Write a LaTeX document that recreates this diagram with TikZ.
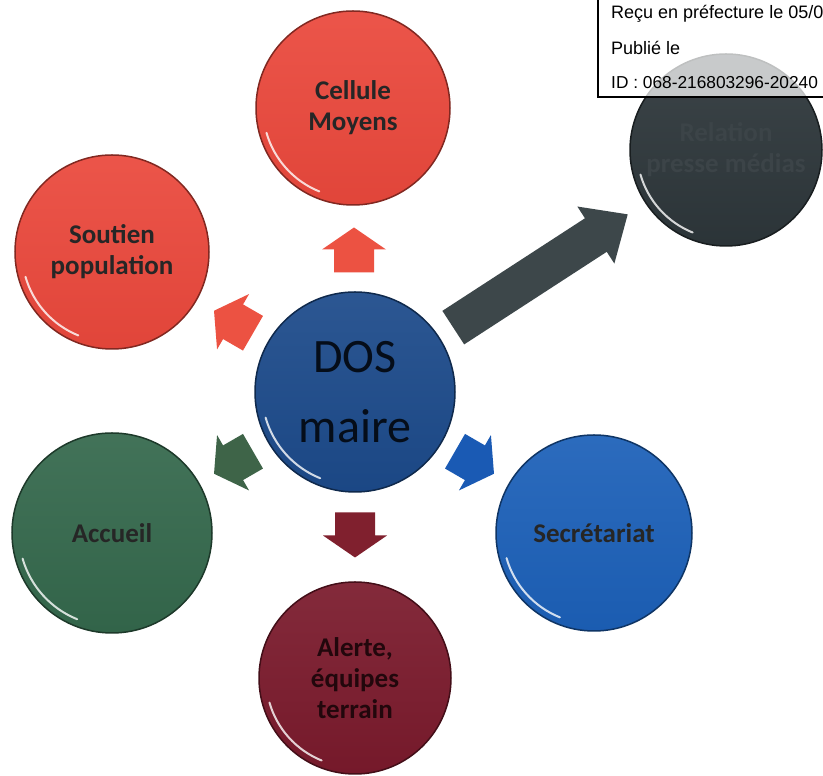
\documentclass[tikz,border=0pt]{standalone}
\usepackage{fontspec}
\setmainfont{Carlito}
\newfontfamily\stampfont{Liberation Sans}
\usetikzlibrary{calc}
\definecolor{redcol}{RGB}{234,72,60}
\definecolor{dosblue}{RGB}{28,74,138}
\definecolor{secblue}{RGB}{28,96,184}
\definecolor{greencol}{RGB}{52,104,76}
\definecolor{winecol}{RGB}{122,26,44}
\definecolor{slatecol}{RGB}{45,54,58}
\definecolor{arrslate}{RGB}{61,71,74}
\definecolor{arrred}{RGB}{236,82,66}
\definecolor{arrgreen}{RGB}{62,100,72}
\definecolor{arrwine}{RGB}{128,32,46}
\definecolor{arrblue}{RGB}{26,90,180}
\tikzset{
  bubble/.style   = {circle, draw=#1!55!black, line width=1.5pt,
                     top color=#1!93!white, bottom color=#1!96!black,
                     minimum size=194pt, inner sep=0pt, align=center,
                     font=\fontsize{27}{31}\selectfont\bfseries, text=black!85},
  gloss/.style    = {white, line width=2pt, opacity=0.8, line cap=round},
  stampbox/.style = {line width=2.6pt, draw=black, fill=white, fill opacity=0.72},
  stamptext/.style = {font=\stampfont\fontsize{#1}{20}\selectfont, inner sep=0pt,
                     anchor=west},
  stamptext/.default = 18,
  pics/blockarrow/.style args = {#1/#2/#3/#4}{code={
    % #1 length, #2 head length, #3 shaft width, #4 head width
    \fill (-#1/2,-#3/2) -- (#1/2-#2,-#3/2) -- (#1/2-#2,-#4/2) -- (#1/2,0)
          -- (#1/2-#2,#4/2) -- (#1/2-#2,#3/2) -- (-#1/2,#3/2) -- cycle;
  }},
}

\begin{document}
\begin{tikzpicture}[x=1pt, y=1pt]
  \useasboundingbox (0,0) rectangle (823,776);
  \fill[white] (0,0) rectangle (823,776);

  % the centre and its six cells
  \node[bubble=dosblue, minimum size=200pt, font=\fontsize{48}{70}\selectfont,
        text=black!82!dosblue] (dos) at (355,384) {DOS\\maire};
  \node[bubble=redcol] (cel) at (353,668) {Cellule\\Moyens};
  \node[bubble=redcol] (sou) at (112,524) {Soutien\\population};
  \node[bubble=slatecol, minimum size=192pt, text=slatecol!93!white] (rel)
       at (726,626) {Relation\\presse médias};
  \node[bubble=greencol, minimum size=200pt] (acc) at (112,243) {Accueil};
  \node[bubble=secblue, minimum size=196pt] (sec) at (594,243) {Secrétariat};
  \node[bubble=winecol, minimum size=192pt, text=black!72!winecol] (ale)
       at (355,98) {Alerte,\\équipes\\terrain};

  \foreach \n/\r in {dos/93, cel/90, sou/90, rel/89, acc/93, sec/91, ale/89}
    \draw[gloss] ($(\n)+(196:\r)$) arc[start angle=196, end angle=248, radius=\r];

  % block arrows from the centre
  \pic[fill=arrred, rotate=90]    at ($(dos)!0.5!(cel)$) {blockarrow=45/22/40/64};
  \pic[fill=arrred, rotate=150]   at ($(dos)!0.5!(sou)$) {blockarrow=45/22/40/64};
  \pic[fill=arrgreen, rotate=210] at ($(dos)!0.5!(acc)$) {blockarrow=45/22/40/64};
  \pic[fill=arrwine, rotate=-90]  at ($(dos)!0.5!(ale)$) {blockarrow=45/22/40/64};
  \pic[fill=arrblue, rotate=-30]  at ($(dos)!0.5!(sec)$) {blockarrow=45/22/40/64};
  \pic[fill=arrslate, rotate=33]  at ($(dos)!0.5!(rel)$) {blockarrow=208/38/40/68};

  % prefecture stamp
  \draw[stampbox] (598,679) rectangle (840,790);
  \node[stamptext] (recu) at (611,762) {Reçu en préfecture le 05/0};
  \node[stamptext] (publ) at (611,728) {Publié le};
  \node[stamptext=17.3] (ident) at (611,693) {ID : 068-216803296-20240};
\end{tikzpicture}
\end{document}
